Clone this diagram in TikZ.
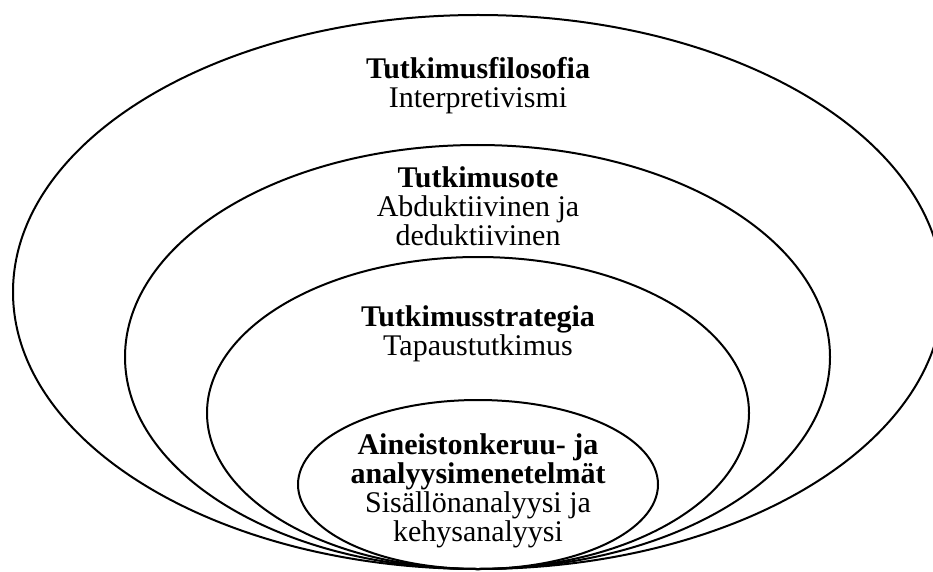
\documentclass[tikz,border=0pt]{standalone}
\usepackage{fontspec}
\setmainfont{Liberation Serif}
\begin{document}
\begin{tikzpicture}[x=1pt,y=-1pt,inner sep=0pt,outer sep=0pt,
ring/.style={draw,line width=2pt},
layer/.style={align=center,anchor=base,font=\fontsize{30}{29}\selectfont}]
\useasboundingbox (0,0) rectangle (933,572);
\draw[ring] (478,292) ellipse [x radius=465,y radius=277];
\draw[ring] (477.5,357) ellipse [x radius=352.5,y radius=212];
\draw[ring] (478,413) ellipse [x radius=271,y radius=156];
\draw[ring] (478,484.5) ellipse [x radius=180,y radius=84.5];
\draw (478,108) node[layer] (filosofia) {\textbf{Tutkimusfilosofia}\\Interpretivismi};
\draw (478,245) node[layer] (ote) {\textbf{Tutkimusote}\\Abduktiivinen ja\\deduktiivinen};
\draw (478,355) node[layer] (strategia) {\textbf{Tutkimusstrategia}\\Tapaustutkimus};
\draw (478,541) node[layer] (menetelmat) {\textbf{Aineistonkeruu- ja}\\\textbf{analyysimenetelmät}\\Sisällönanalyysi ja\\kehysanalyysi};
\end{tikzpicture}
\end{document}
